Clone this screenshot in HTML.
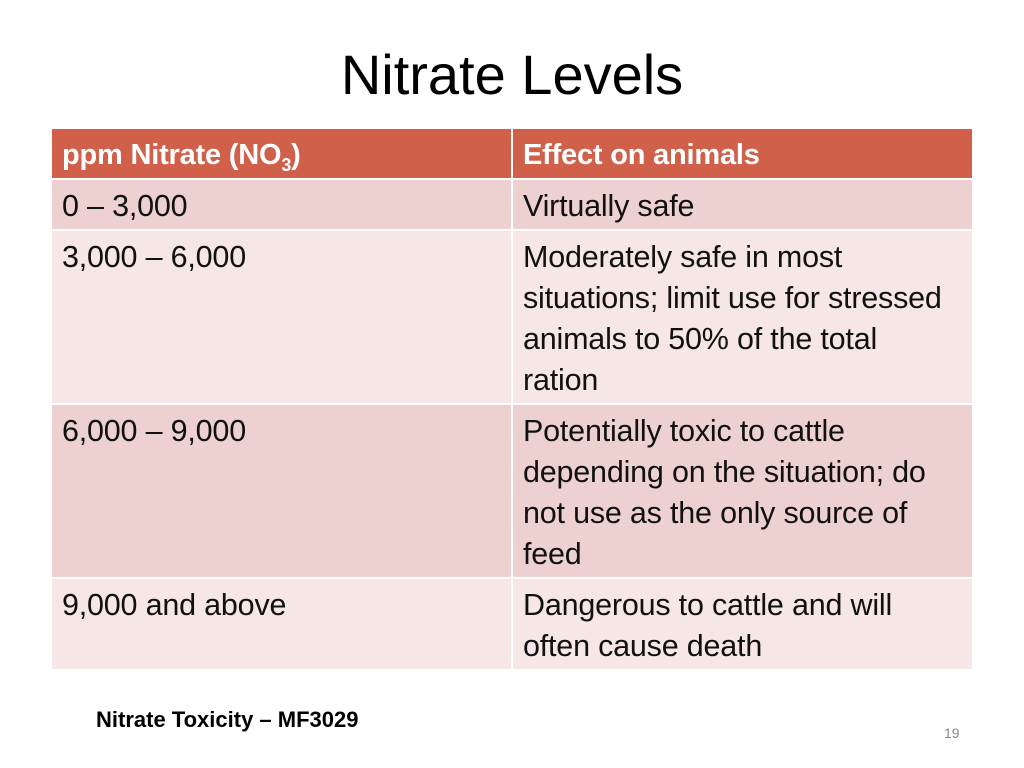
<!DOCTYPE html>
<html><head><meta charset="utf-8"><style>
body{margin:0;width:1024px;height:768px;background:#fff;position:relative;overflow:hidden;font-family:"Liberation Sans",sans-serif;}
.t{position:absolute;left:0;width:1024px;top:42px;text-align:center;font-size:56px;color:#000;}
.c{position:absolute;box-sizing:border-box;padding:6px 10px 0;font-size:30.5px;line-height:41px;color:#111;white-space:nowrap;letter-spacing:-0.2px;}
.h{background:#D0604A;color:#fff;font-weight:bold;font-size:29px;}
.a{background:#EDD1D0}.b{background:#F6E6E6}
.f{position:absolute;left:96px;top:707px;font-size:22px;font-weight:bold;}
.n{position:absolute;left:944px;top:725px;font-size:14px;color:#888;}
</style></head><body>
<div class="t">Nitrate Levels</div>
<div>
<div class="c h" style="left:52px;top:129px;width:459px;height:49px">ppm Nitrate (NO<sub style="font-size:18px">3</sub>)</div>
<div class="c h" style="left:513px;top:129px;width:459px;height:49px">Effect on animals</div>
<div class="c a" style="left:52px;top:180px;width:459px;height:49px">0 – 3,000</div>
<div class="c a" style="left:513px;top:180px;width:459px;height:49px">Virtually safe</div>
<div class="c b" style="left:52px;top:231px;width:459px;height:172px">3,000 – 6,000</div>
<div class="c b" style="left:513px;top:231px;width:459px;height:172px">Moderately safe in most<br>situations; limit use for stressed<br>animals to 50% of the total<br>ration</div>
<div class="c a" style="left:52px;top:405px;width:459px;height:172px">6,000 – 9,000</div>
<div class="c a" style="left:513px;top:405px;width:459px;height:172px">Potentially toxic to cattle<br>depending on the situation; do<br>not use as the only source of<br>feed</div>
<div class="c b" style="left:52px;top:579px;width:459px;height:90px">9,000 and above</div>
<div class="c b" style="left:513px;top:579px;width:459px;height:90px">Dangerous to cattle and will<br>often cause death</div>
</div>
<div class="f">Nitrate Toxicity – MF3029</div>
<div class="n">19</div>
</body></html>
